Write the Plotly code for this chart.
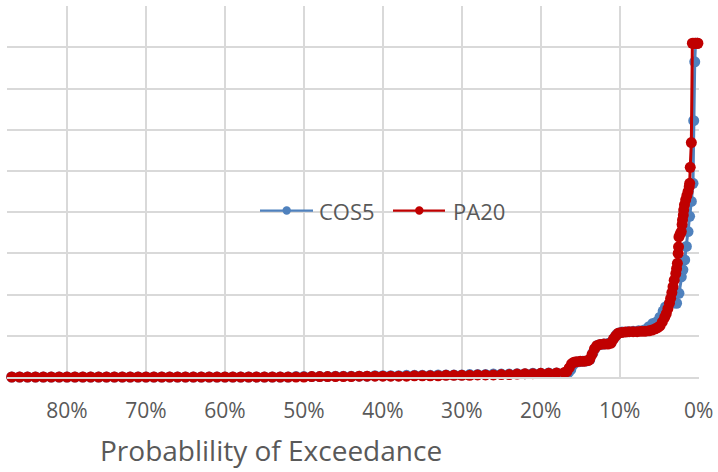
import plotly.graph_objects as go

# Exceedance probability (%) and value (in gridline units)
pa20_p = [87, 86, 85, 84, 83, 82, 81, 80, 79, 78, 77, 76, 75, 74, 73, 72, 71, 70,
          69, 68, 67, 66, 65, 64, 63, 62, 61, 60, 59, 58, 57, 56, 55, 54, 53, 52,
          51, 50, 49, 48, 47, 46, 45, 44, 43, 42, 41, 40, 39, 38, 37, 36, 35, 34,
          33, 32, 31, 30, 29, 28, 27, 26, 25, 24, 23, 22, 21, 20, 19, 18, 17,
          16.7, 16.4, 16.1, 15.8, 15.5, 15.0, 14.5, 14.0, 13.8, 13.5, 13.2, 12.9,
          12.5, 12.0, 11.5, 11.1, 10.8, 10.5, 10.2, 9.8, 9.3, 8.8, 8.3, 7.8, 7.3,
          6.8, 6.3, 5.9, 5.5, 5.2, 4.9, 4.6, 4.3, 4.1, 3.9, 3.7, 3.55, 3.4, 3.25,
          3.1, 2.9, 2.8, 2.7, 2.6, 2.55, 2.5, 2.35, 2.2, 2.1, 2.05, 1.95, 1.9,
          1.8, 1.65, 1.5, 1.35, 1.2, 1.14, 1.07, 0.93, 0.8, 0.6, 0.4, 0.2, 0.1]
pa20_v = [0.00, 0.00, 0.00, 0.00, 0.00, 0.00, 0.00, 0.00, 0.00, 0.00, 0.00, 0.00,
          0.00, 0.00, 0.00, 0.00, 0.00, 0.00, 0.00, 0.00, 0.00, 0.00, 0.00, 0.00,
          0.00, 0.00, 0.00, 0.00, 0.00, 0.00, 0.00, 0.00, 0.00, 0.00, 0.00, 0.00,
          0.00, 0.00, 0.01, 0.01, 0.01, 0.01, 0.01, 0.01, 0.02, 0.02, 0.02, 0.02,
          0.02, 0.02, 0.02, 0.03, 0.03, 0.03, 0.03, 0.04, 0.04, 0.04, 0.04, 0.05,
          0.05, 0.05, 0.06, 0.06, 0.07, 0.08, 0.08, 0.09, 0.09, 0.10, 0.11,
          0.13, 0.22, 0.32, 0.36, 0.37, 0.38, 0.38, 0.40, 0.43, 0.55, 0.68, 0.76,
          0.79, 0.80, 0.80, 0.82, 0.92, 1.00, 1.06, 1.08, 1.09, 1.10, 1.10, 1.10,
          1.11, 1.11, 1.12, 1.14, 1.17, 1.20, 1.24, 1.34, 1.45, 1.54, 1.66, 1.79,
          1.91, 2.05, 2.19, 2.35, 2.51, 2.63, 2.76, 3.00, 3.16, 3.40, 3.47, 3.53,
          3.70, 3.81, 3.93, 4.05, 4.18, 4.30, 4.40, 4.50, 4.62, 4.70, 5.09, 5.69,
          8.10, 8.10, 8.10, 8.10, 8.10]

cos5_p = [87, 86, 85, 84, 83, 82, 81, 80, 79, 78, 77, 76, 75, 74, 73, 72, 71, 70,
          69, 68, 67, 66, 65, 64, 63, 62, 61, 60, 59, 58, 57, 56, 55, 54, 53, 52,
          51, 50, 49, 48, 47, 46, 45, 44, 43, 42, 41, 40, 39, 38, 37, 36, 35, 34,
          33, 32, 31, 30, 29, 28, 27, 26, 25, 24, 23, 22, 21, 20, 19, 18, 17,
          16.5, 16.2, 15.9, 15.6, 15.2, 14.7, 14.2, 13.8, 13.4, 13.1, 12.8, 12.4,
          12.0, 11.5, 11.1, 10.7, 10.4, 10.1, 9.7, 9.0, 8.3, 7.6, 6.9, 6.3, 5.8,
          5.3, 4.9, 4.5, 4.2, 3.8, 3.4, 3.1, 2.8, 2.5, 2.2, 2.0, 1.77, 1.56, 1.35,
          1.15, 0.93, 0.72, 0.63, 0.5, 0.4, 0.2]
cos5_v = [0.00, 0.00, 0.00, 0.00, 0.00, 0.00, 0.00, 0.00, 0.00, 0.00, 0.00, 0.00,
          0.00, 0.00, 0.00, 0.00, 0.00, 0.00, 0.00, 0.00, 0.00, 0.00, 0.00, 0.00,
          0.00, 0.00, 0.00, 0.00, 0.00, 0.00, 0.00, 0.00, 0.00, 0.00, 0.00, 0.00,
          0.01, 0.01, 0.01, 0.01, 0.01, 0.02, 0.02, 0.02, 0.02, 0.02, 0.03, 0.03,
          0.03, 0.03, 0.04, 0.04, 0.04, 0.04, 0.05, 0.05, 0.05, 0.05, 0.06, 0.06,
          0.06, 0.07, 0.07, 0.07, 0.08, 0.08, 0.09, 0.09, 0.10, 0.10, 0.10,
          0.11, 0.18, 0.30, 0.36, 0.37, 0.38, 0.39, 0.42, 0.58, 0.70, 0.77, 0.79,
          0.80, 0.81, 0.84, 0.95, 1.03, 1.07, 1.09, 1.10, 1.11, 1.12, 1.14, 1.22,
          1.30, 1.34, 1.45, 1.60, 1.70, 1.76, 1.80, 1.80, 1.79, 2.03, 2.43, 2.60,
          2.84, 3.17, 3.53, 3.90, 4.26, 4.70, 6.22, 7.65, 8.10, 8.10]

series_names = ["COS5", "PA20"]
x_tick_vals = [0.9, 0.8, 0.7, 0.6, 0.5, 0.4, 0.3, 0.2, 0.1, 0.0]
axis_title = "Probablility of Exceedance"

BLUE = "#4F81BD"
RED = "#C00000"
GRID = "#D9D9D9"
TXT = "#595959"
FONT = "Open Sans"

# plot-area geometry in page pixels (used only to place legend / title)
PL, PR, PT, PB = 7, 699, 6, 377
def px_x(px):
    return (px - PL) / (PR - PL)
def px_y(py):
    return (PB - py) / (PB - PT)

fig = go.Figure()
for name, ps, vs, col in [(series_names[0], cos5_p, cos5_v, BLUE),
                          (series_names[1], pa20_p, pa20_v, RED)]:
    fig.add_trace(go.Scatter(
        x=[p / 100 for p in ps], y=vs, name=name, mode="lines+markers",
        line=dict(color=col, width=3),
        marker=dict(color=col, size=11),
        cliponaxis=False, showlegend=False,
    ))

# Legend drawn as in the reference (long line with marker, then label)
shapes = []
annotations = []
leg_y = 210.5
for name, col, x0, x1, xm, xt in [(series_names[0], BLUE, 260, 313, 286.7, 317),
                                  (series_names[1], RED, 393, 445, 419.3, 451)]:
    shapes.append(dict(type="line", xref="paper", yref="paper",
                       x0=px_x(x0), x1=px_x(x1), y0=px_y(leg_y), y1=px_y(leg_y),
                       line=dict(color=col, width=2.25)))
    shapes.append(dict(type="circle", xref="paper", yref="paper",
                       x0=px_x(xm - 4.2), x1=px_x(xm + 4.2),
                       y0=px_y(leg_y + 4.2), y1=px_y(leg_y - 4.2),
                       fillcolor=col, line=dict(color=col, width=0)))
    annotations.append(dict(text=name, xref="paper", yref="paper",
                            x=px_x(xt), y=px_y(leg_y), xanchor="left",
                            yanchor="middle", showarrow=False,
                            font=dict(size=22, color=TXT, family=FONT)))

annotations.append(dict(text=axis_title, xref="paper", yref="paper",
                        x=px_x(271), y=px_y(450),
                        xanchor="center", yanchor="middle", showarrow=False,
                        font=dict(size=28, color=TXT, family=FONT)))

fig.update_layout(
    width=718, height=472,
    margin=dict(l=PL, r=718 - PR, t=PT, b=472 - PB, autoexpand=False),
    paper_bgcolor="white", plot_bgcolor="white",
    font=dict(family=FONT, color=TXT, size=21),
    showlegend=False,
    xaxis=dict(range=[0.876, -0.0004], tickvals=x_tick_vals, tickformat=".0%",
               showgrid=True, gridcolor=GRID, gridwidth=1.5,
               showline=True, linecolor=GRID, linewidth=1.5,
               zeroline=False, ticks="", ticklabelstandoff=14, automargin=False,
               tickfont=dict(size=21, color=TXT)),
    yaxis=dict(range=[0, 9.004], dtick=1, showticklabels=False,
               showgrid=True, gridcolor=GRID, gridwidth=1.5, automargin=False,
               zeroline=False, showline=False, ticks=""),
    shapes=shapes,
    annotations=annotations,
)

fig.write_html("out.html", config={"displayModeBar": False},
               post_script="document.body.style.margin='0px';"
                           "document.body.style.overflow='hidden';")
